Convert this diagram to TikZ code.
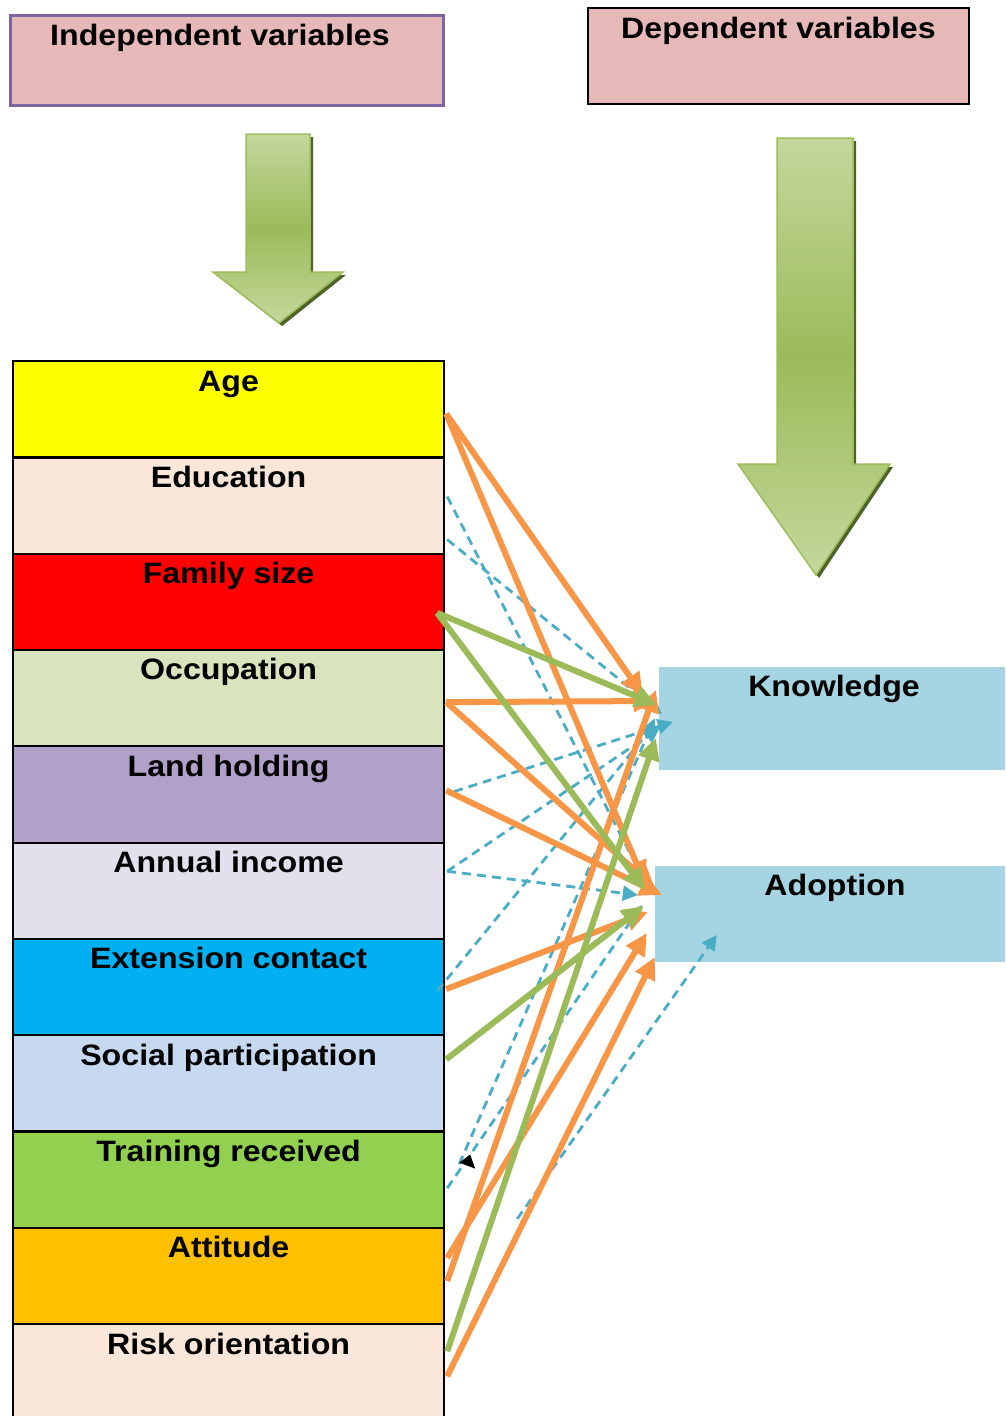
\documentclass[tikz,border=0pt]{standalone}
\usepackage{fontspec}
\setmainfont{Liberation Sans}[FakeStretch=1.09]
\usetikzlibrary{arrows.meta,calc}
\definecolor{hdrfill}{HTML}{E6B9B8}
\definecolor{hdrpurple}{HTML}{8064A2}
\definecolor{cAge}{HTML}{FFFF00}
\definecolor{cEdu}{HTML}{FBE7D9}
\definecolor{cFam}{HTML}{FF0000}
\definecolor{cOcc}{HTML}{D7E4BD}
\definecolor{cLand}{HTML}{B1A0C7}
\definecolor{cInc}{HTML}{E4DFEC}
\definecolor{cExt}{HTML}{00B0F0}
\definecolor{cSoc}{HTML}{C6D9F1}
\definecolor{cTrn}{HTML}{92D050}
\definecolor{cAtt}{HTML}{FFC000}
\definecolor{cDep}{HTML}{A5D5E2}
\definecolor{orangeA}{HTML}{F79646}
\definecolor{greenA}{HTML}{9BBB59}
\definecolor{blueA}{HTML}{4BACC6}
\definecolor{arrLight}{HTML}{C4D79C}
\definecolor{arrMid}{HTML}{9BBB59}
\definecolor{arrEdge}{HTML}{9DBD5C}
\definecolor{arrShadow}{HTML}{4F6228}
\tikzset{
  rowbox/.style={draw=black, line width=2.2pt, minimum width=431pt, minimum height=96.3pt, inner sep=0pt, anchor=north west},
  lbl/.style={font=\bfseries\fontsize{29.5}{34}\selectfont, anchor=base, inner sep=0pt},
  hdrbox/.style={fill=hdrfill, line width=3pt, inner sep=0pt},
  depbox/.style={fill=cDep, inner sep=0pt},
  oarr/.style={draw=orangeA, line width=6pt, -{Triangle[length=22pt,width=21pt]}},
  garr/.style={draw=greenA, line width=6pt, -{Triangle[length=22pt,width=21pt]}},
  barr/.style={draw=blueA, line width=2.8pt, dash pattern=on 9pt off 6pt, -{Triangle[length=15pt,width=15pt]}},
  bigarrow/.style={top color=arrLight, bottom color=arrLight, middle color=arrMid, draw=arrEdge, line width=1.5pt}
}
\begin{document}
\begin{tikzpicture}[x=1pt,y=-1pt]
\useasboundingbox (0,0) rectangle (1005,1416);
\clip (0,0) rectangle (1005,1416);
\fill[white] (0,0) rectangle (1005,1416);

% headers
\node[hdrbox, draw=hdrpurple, minimum width=433pt, minimum height=90pt] (ind) at (226.5,60) {};
\node[lbl] (ind-t) at ($(ind.north)+(-6.5,32)$) {Independent variables};
\node[hdrbox, draw=black, line width=2.2pt, minimum width=381pt, minimum height=96pt] (dep) at (778.5,56) {};
\node[lbl] (dep-t) at ($(dep.north)+(0,32)$) {Dependent variables};

% big arrows
\fill[arrShadow] (249,137) -- (313,137) -- (313,275) -- (346,275) -- (282,326) -- (216,275) -- (249,275) -- cycle;
\shade[bigarrow] (246,134) -- (310,134) -- (310,272) -- (343,272) -- (279,323) -- (213,272) -- (246,272) -- cycle;
\fill[arrShadow] (780,141) -- (856,141) -- (856,467) -- (893,467) -- (819,578) -- (741,467) -- (780,467) -- cycle;
\shade[bigarrow] (777,138) -- (853,138) -- (853,464) -- (890,464) -- (816,575) -- (738,464) -- (777,464) -- cycle;

% independent variable rows
\foreach \i/\nm/\col/\txt in {0/age/cAge/Age, 1/edu/cEdu/Education, 2/fam/cFam/Family size, 3/occ/cOcc/Occupation, 4/land/cLand/Land holding, 5/inc/cInc/Annual income, 6/ext/cExt/Extension contact, 7/soc/cSoc/Social participation, 8/trn/cTrn/Training received, 9/att/cAtt/Attitude, 10/risk/cEdu/Risk orientation}{
  \node[rowbox, fill=\col] (\nm) at (12,{360+96.3*\i}) {};
  \node[lbl] (\nm-t) at ($(\nm.north)+(0,31)$) {\txt};
}

% dependent variables
\node[depbox, minimum width=346pt, minimum height=103pt] (know) at (832,718.5) {};
\node[lbl] (know-t) at ($(know.north)+(2,30)$) {Knowledge};
\node[depbox, minimum width=350pt, minimum height=96pt] (adop) at (830,914) {};
\node[lbl] (adop-t) at ($(adop.north)+(5,30)$) {Adoption};

% blue dashed connectors
\draw[barr] ($(edu.east)+(2,-9)$) -- ($(adop.west)+(-10,-32)$);
\draw[barr] ($(edu.east)+(2,34)$) -- ($(know.west)+(3,-4.5)$);
\draw[barr] ($(land.east)+(9,-3)$) -- ($(know.west)+(14,3.5)$);
\draw[barr] ($(inc.east)+(2,-19.5)$) -- ($(know.west)+(1,9.5)$);
\draw[barr] ($(inc.east)+(2,-19.5)$) -- ($(adop.west)+(-17,-19)$);
\draw[barr] ($(ext.east)+(-8,4)$) -- ($(know.west)+(-4,5.5)$);
\draw[barr] ($(trn.east)+(14,-15.5)$) -- ($(know.west)+(-4,0)$);
\draw[barr] ($(trn.east)+(2,8.5)$) -- ($(adop.west)+(-13,-9)$);
\draw[barr] ($(att.east)+(72,-57)$) -- ($(adop.west)+(62,21)$);
\fill[black] ($(trn.east)+(14,-17)$) -- ++(11,-8) -- ++(5,14) -- cycle;

% orange connectors
\draw[oarr] ($(age.east)+(1,4.5)$) -- ($(know.west)+(-16,-23.5)$);
\draw[oarr] ($(age.east)+(1,4.5)$) -- ($(adop.west)+(-10,-31)$);
\draw[oarr] ($(occ.east)+(1,4)$) -- ($(know.west)+(-3,-17.5)$);
\draw[oarr] ($(occ.east)+(1,4)$) -- ($(adop.west)+(0,-26)$);
\draw[oarr] ($(land.east)+(1,-4)$) -- ($(adop.west)+(7,-19)$);
\draw[oarr] ($(ext.east)+(1,2)$) -- ($(adop.west)+(-7,-2)$);
\draw[oarr] ($(att.east)+(2,-18)$) -- ($(adop.west)+(-8,19)$);
\draw[oarr] ($(att.east)+(2,5)$) -- ($(know.west)+(-3,-28.5)$);
\draw[oarr] ($(risk.east)+(2,4)$) -- ($(adop.west)+(0,43)$);

% green connectors
\draw[garr] ($(fam.east)+(-8,11)$) -- ($(know.west)+(-2,-13.5)$);
\draw[garr] ($(fam.east)+(-8,11)$) -- ($(adop.west)+(-10,-24)$);
\draw[garr] ($(soc.east)+(1,-24)$) -- ($(adop.west)+(-11,-8)$);
\draw[garr] ($(risk.east)+(2,-21)$) -- ($(know.west)+(-3,19.5)$);
\end{tikzpicture}
\end{document}
